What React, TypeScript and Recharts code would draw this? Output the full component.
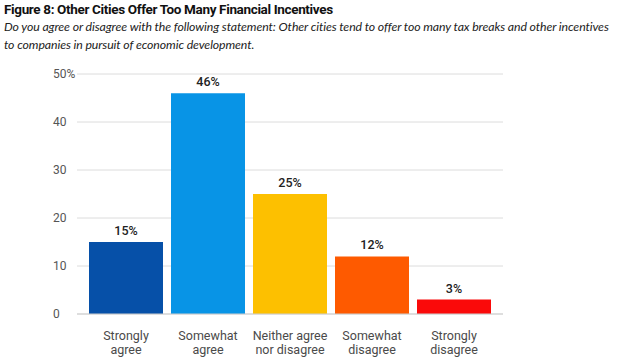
import React from "react";
import { BarChart, Bar, XAxis, YAxis, CartesianGrid, LabelList, Cell } from "recharts";

const categories = [
  "Strongly\nagree",
  "Somewhat\nagree",
  "Neither agree\nnor disagree",
  "Somewhat\ndisagree",
  "Strongly\ndisagree",
];
const shares = [15, 46, 25, 12, 3];
const barColors = ["#0650a8", "#0894e6", "#fdc000", "#fe5a00", "#fa0a0a"];
const yTicks = [0, 10, 20, 30, 40, 50];

const data = categories.map((name, i) => ({ name, value: shares[i] }));

const title = "Figure 8: Other Cities Offer Too Many Financial Incentives";
const subtitleLines = [
  "Do you agree or disagree with the following statement: Other cities tend to offer too many tax breaks and other incentives",
  "to companies in pursuit of economic development.",
];

const CategoryTick = (props: any) => {
  const { x, y, payload } = props;
  const lines = String(payload.value).split("\n");
  return (
    <text x={x} y={y} textAnchor="middle" fill="#4a4a4a" fontSize={12.5} fontFamily="Roboto">
      {lines.map((l, i) => (
        <tspan key={i} x={x} dy={i === 0 ? 18 : 13.5}>
          {l}
        </tspan>
      ))}
    </text>
  );
};

const ValueTick = (props: any) => {
  const { y, payload } = props;
  const label = payload.value === 50 ? "50%" : String(payload.value);
  return (
    <text x={53} y={y} dy={4} textAnchor="start" fill="#555" fontSize={12} fontFamily="Roboto">
      {label}
    </text>
  );
};

export default function App() {
  return (
    <div style={{ position: "absolute", left: 0, top: 0, width: 620, height: 361, background: "#fff" }}>
      <div
        style={{
          position: "absolute",
          left: 4,
          top: 1,
          fontFamily: "Roboto",
          fontWeight: 700,
          fontSize: 13.5,
          letterSpacing: -0.35,
          color: "#111",
          whiteSpace: "nowrap",
        }}
      >
        {title}
      </div>
      {subtitleLines.map((line, i) => (
        <div
          key={i}
          style={{
            position: "absolute",
            left: 4,
            top: 19 + i * 18,
            fontFamily: "Lato",
            fontStyle: "italic",
            fontSize: 12.3,
            letterSpacing: -0.1,
            color: "#222",
            whiteSpace: "nowrap",
          }}
        >
          {line}
        </div>
      ))}
      <div style={{ position: "absolute", left: 0, top: 0 }}>
        <BarChart
          width={620}
          height={361}
          data={data}
          margin={{ top: 74, right: 117, bottom: 0, left: 0 }}
          barCategoryGap={4}
        >
          <CartesianGrid vertical={false} stroke="#dcdcdc" />
          <XAxis
            dataKey="name"
            height={47}
            interval={0}
            tick={<CategoryTick />}
            tickLine={false}
            axisLine={{ stroke: "#cfcfcf" }}
            padding={{ left: 8, right: 8 }}
          />
          <YAxis
            width={77}
            domain={[0, 50]}
            ticks={yTicks}
            tick={<ValueTick />}
            tickLine={false}
            axisLine={false}
          />
          <Bar dataKey="value" isAnimationActive={false}>
            {data.map((d, i) => (
              <Cell key={d.name} fill={barColors[i]} />
            ))}
            <LabelList
              dataKey="value"
              position="top"
              offset={7}
              formatter={(v: any) => `${v}%`}
              fill="#222"
              fontSize={12.5}
              fontWeight={500}
              fontFamily="Roboto"
            />
          </Bar>
        </BarChart>
      </div>
    </div>
  );
}
